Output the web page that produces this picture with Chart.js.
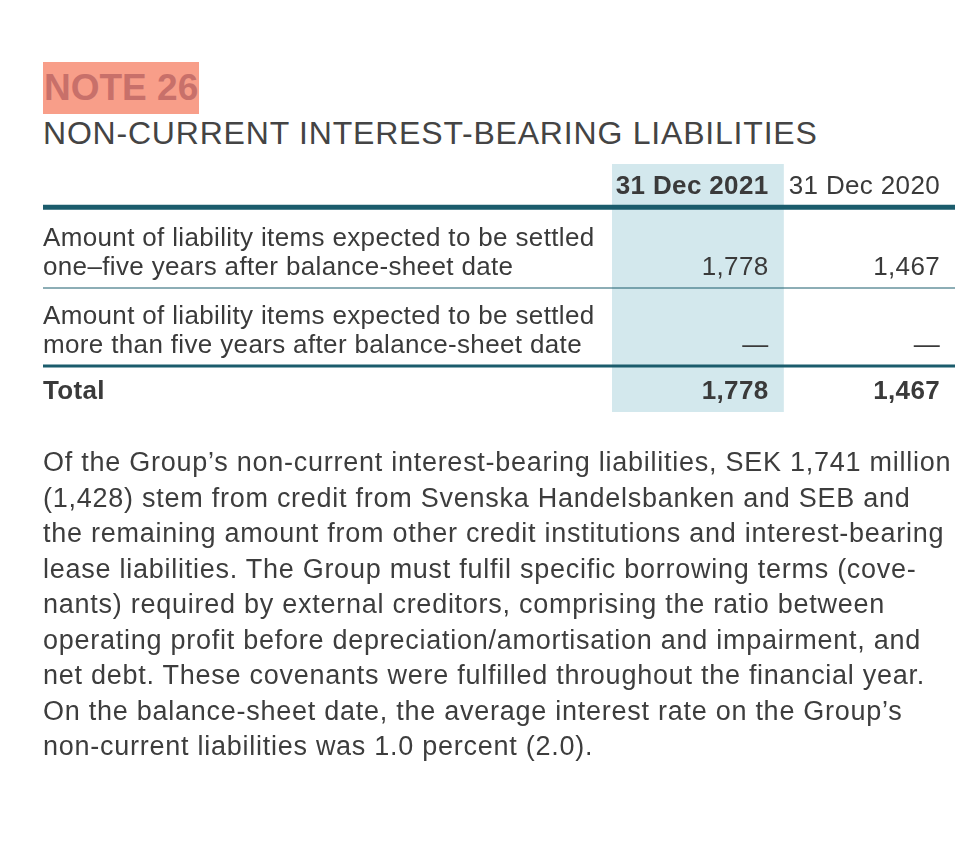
<!DOCTYPE html>
<html>
<head>
<meta charset="utf-8">
<script src="https://cdn.jsdelivr.net/npm/chart.js@4.4.0/dist/chart.umd.min.js"></script>
<style>
html, body { margin: 0; padding: 0; background: #fff; }
body { width: 973px; height: 859px; position: relative; overflow: hidden; font-family: "Liberation Sans", Arial, sans-serif; color: #3d3d3d; }
#note { position: absolute; left: 43px; top: 62px; width: 156px; height: 52px; background: #f89e89; color: #c8706a; font-weight: bold; font-size: 37px; line-height: 52px; padding-left: 1px; box-sizing: border-box; white-space: nowrap; }
#title { position: absolute; left: 43px; top: 117px; font-size: 32px; line-height: 32px; letter-spacing: 0.8px; color: #444; white-space: nowrap; }
#wrap { position: absolute; left: 0; top: 0; width: 973px; height: 859px; }
#text { position: absolute; left: 43px; top: 445px; font-size: 27px; line-height: 35.5px; letter-spacing: 0.74px; color: #3d3d3d; white-space: nowrap; }
</style>
</head>
<body>
<div id="note">NOTE 26</div>
<div id="title">NON-CURRENT INTEREST-BEARING LIABILITIES</div>
<div id="wrap"><canvas id="tableChart" width="973" height="859"></canvas></div>
<div id="text">
Of the Group’s non-current interest-bearing liabilities, SEK 1,741 million<br>
(1,428) stem from credit from Svenska Handelsbanken and SEB and<br>
the remaining amount from other credit institutions and interest-bearing<br>
lease liabilities. The Group must fulfil specific borrowing terms (cove-<br>
nants) required by external creditors, comprising the ratio between<br>
operating profit before depreciation/amortisation and impairment, and<br>
net debt. These covenants were fulfilled throughout the financial year.<br>
On the balance-sheet date, the average interest rate on the Group’s<br>
non-current liabilities was 1.0 percent (2.0).
</div>
<script>
// table data
const columns = ['31 Dec 2021', '31 Dec 2020'];
const highlightColumn = '31 Dec 2021';
const rowLabels = [
    ['Amount of liability items expected to be settled', 'one–five years after balance-sheet date'],
    ['Amount of liability items expected to be settled', 'more than five years after balance-sheet date'],
    ['Total']
];
const values2021 = [1778, null, 1778];
const values2020 = [1467, null, 1467];

// layout: height of header + each row, in text-line units
const ROW_SPAN = [1.55, 2.9, 2.8, 1.65];
const TABLE_LEFT = 43;
const LINE_H = 29;
const TEXT_COLOR = '#3a3a3a';
const RULE_COLOR = '#1b5c6c';

// row boundaries on the y scale
const bounds = [0];
ROW_SPAN.forEach(s => bounds.push(bounds[bounds.length - 1] + s));
const yMax = bounds[bounds.length - 1];

function fmt(v){
    return v === null ? '—' : v.toLocaleString('en-US');
}

// draws the header, row texts, values and rules using the chart scales
const tablePlugin = {
    id: 'tableText',
    afterDatasetsDraw(chart){
        const ctx = chart.ctx;
        const xs = chart.scales.x;
        const ys = chart.scales.y;
        const half = (xs.right - xs.left) / columns.length / 2;
        const colRight = i => xs.getPixelForValue(i) + half - 15;
        const valueCols = [values2021, values2020];

        ctx.save();
        ctx.letterSpacing = '0.35px';
        ctx.fillStyle = TEXT_COLOR;
        ctx.textBaseline = 'alphabetic';

        // header
        const headBase = ys.getPixelForValue(bounds[1]) - 13;
        ctx.textAlign = 'right';
        columns.forEach((c, i) => {
            ctx.font = (c === highlightColumn ? 'bold ' : '') + '26px "Liberation Sans", Arial, sans-serif';
            ctx.fillText(c, colRight(i), headBase);
        });

        // rows
        rowLabels.forEach((lines, r) => {
            const bold = r === rowLabels.length - 1;
            ctx.font = (bold ? 'bold ' : '') + '26px "Liberation Sans", Arial, sans-serif';
            const last = ys.getPixelForValue(bounds[r + 2]) - 13;
            ctx.textAlign = 'left';
            lines.forEach((t, i) => {
                ctx.fillText(t, TABLE_LEFT, last - (lines.length - 1 - i) * LINE_H);
            });
            ctx.textAlign = 'right';
            valueCols.forEach((vals, i) => {
                ctx.fillText(fmt(vals[r]), colRight(i), last);
            });
        });

        // rules
        const rules = [[bounds[1], 5], [bounds[2], 1], [bounds[3], 3]];
        ctx.strokeStyle = RULE_COLOR;
        rules.forEach(([v, w]) => {
            const y = ys.getPixelForValue(v);
            ctx.lineWidth = w;
            ctx.beginPath();
            ctx.moveTo(TABLE_LEFT, y);
            ctx.lineTo(xs.right, y);
            ctx.stroke();
        });
        ctx.restore();
    }
};

document.addEventListener('DOMContentLoaded', () => {
    const ctx = document.querySelector('#tableChart').getContext('2d');

    const tableChart = new Chart(ctx, {
        type: 'bar',
        data: {
            labels: columns,
            datasets: [{
                label: 'highlight',
                data: columns.map(c => c === highlightColumn ? [0, yMax] : null),
                backgroundColor: '#d3e8ed',
                borderWidth: 0,
                barPercentage: 1,
                categoryPercentage: 1
            }]
        },
        options: {
            responsive: false,
            animation: false,
            events: [],
            layout: {
                padding: { left: 612, right: 18, top: 164, bottom: 447 }
            },
            plugins: {
                legend: { display: false },
                tooltip: { enabled: false }
            },
            scales: {
                x: { display: false },
                y: { display: false, reverse: true, min: 0, max: yMax }
            }
        },
        plugins: [tablePlugin]
    });
});
</script>
</body>
</html>
